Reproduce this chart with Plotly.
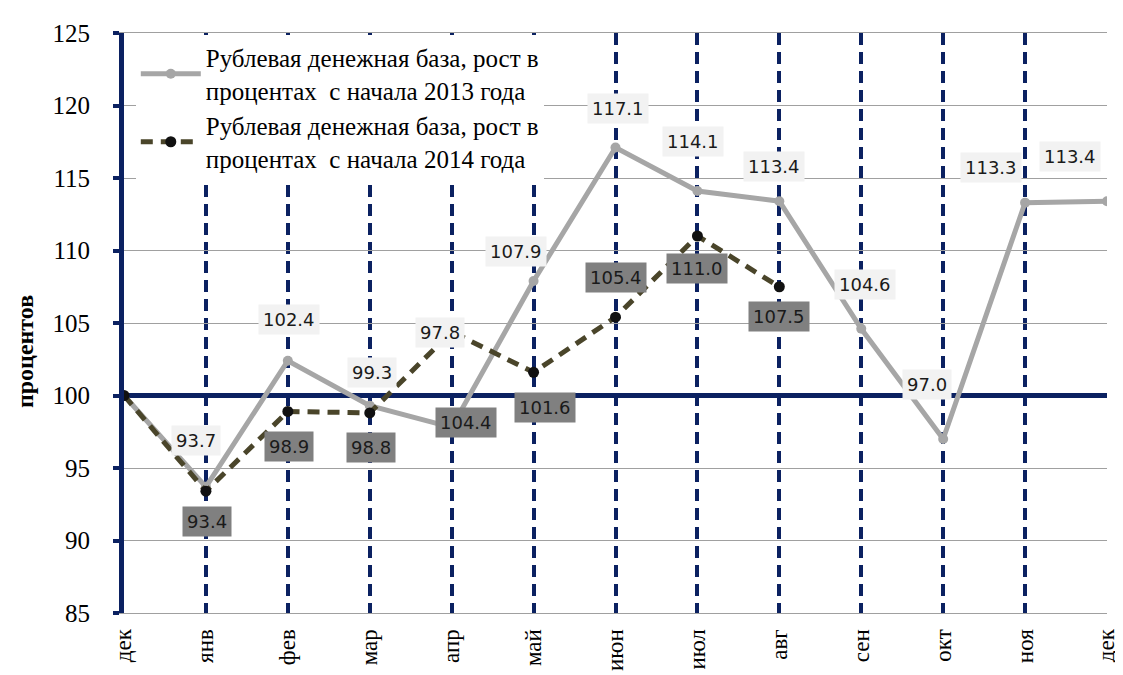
import plotly.graph_objects as go

months = ["дек", "янв", "фев", "мар", "апр", "май", "июн", "июл", "авг", "сен", "окт", "ноя", "дек"]
base_2013 = [100, 93.7, 102.4, 99.3, 97.8, 107.9, 117.1, 114.1, 113.4, 104.6, 97.0, 113.3, 113.4]
base_2014 = [100, 93.4, 98.9, 98.8, 104.4, 101.6, 105.4, 111.0, 107.5]
name_2013 = "Рублевая денежная база, рост в<br>процентах  с начала 2013 года"
name_2014 = "Рублевая денежная база, рост в<br>процентах  с начала 2014 года"
y_title = "процентов"
y_ticks = [85, 90, 95, 100, 105, 110, 115, 120, 125]
baseline = 100

# label offsets in pixels (style only)
off_2013 = [None, (-10, 46), (1, 41), (2, 33), (-12, 95), (-18, 29), (2, 39), (-4, 50),
            (-5, 35), (4, 44), (-16, 55), (-34, 35), (-37, 45)]
off_2014 = [None, (1, -30), (1, -35), (1, -35), (14, -91), (11, -35), (0, 40), (0, -32), (0, -30)]

xs = list(range(len(months)))
NAVY = "#0b2161"
GRAY = "#a6a6a6"
DARK = "#4a452a"

fig = go.Figure()
# baseline reference line at 100, drawn beneath the data series
fig.add_trace(go.Scatter(
    x=[xs[0], xs[-1]], y=[baseline, baseline], mode="lines", showlegend=False, hoverinfo="skip",
    line=dict(color=NAVY, width=5), cliponaxis=False,
))
fig.add_trace(go.Scatter(
    x=xs, y=base_2013, name=name_2013, mode="lines+markers",
    line=dict(color=GRAY, width=5), marker=dict(color=GRAY, size=10),
))
fig.add_trace(go.Scatter(
    x=xs[:len(base_2014)], y=base_2014, name=name_2014, mode="lines+markers",
    line=dict(color=DARK, width=5, dash="12px,8px"), marker=dict(color="#111111", size=11),
))

anns = []
for i, v in enumerate(base_2013):
    o = off_2013[i]
    if o is None:
        continue
    anns.append(dict(x=xs[i], y=v, text=f"{v:.1f}", showarrow=False, xshift=o[0], yshift=o[1],
                     bgcolor="#f2f2f2", borderpad=4,
                     font=dict(family="DejaVu Sans", size=18, color="#1a1a1a")))
for i, v in enumerate(base_2014):
    o = off_2014[i]
    if o is None:
        continue
    anns.append(dict(x=xs[i], y=v, text=f"{v:.1f}", showarrow=False, xshift=o[0], yshift=o[1],
                     bgcolor="#808080", borderpad=4,
                     font=dict(family="DejaVu Sans", size=18, color="#1a1a1a")))
anns.append(dict(x=-0.1, y=0.451, xref="paper", yref="paper", text=f"<b>{y_title}</b>",
                 textangle=-90, showarrow=False, xanchor="center", yanchor="middle",
                 font=dict(family="Liberation Serif", size=24, color="#000000")))

fig.update_layout(
    width=1123, height=675,
    margin=dict(l=116, r=18, t=24, b=66),
    paper_bgcolor="white", plot_bgcolor="white",
    showlegend=True,
    legend=dict(x=0.012, y=0.997, xanchor="left", yanchor="top", bgcolor="white",
                font=dict(family="Liberation Serif", size=25, color="#000000"),
                itemwidth=60, tracegroupgap=10),
    annotations=anns,
    xaxis=dict(range=[0, len(months) - 1], tickvals=xs, ticktext=months, tickangle=-90,
               showgrid=True, gridcolor=NAVY, gridwidth=3.5, griddash="12px,7px",
               showline=True, linecolor="#a0a0a0", linewidth=1, mirror=True,
               ticks="", zeroline=False, ticklabelstandoff=6,
               tickfont=dict(family="Liberation Serif", size=23, color="#000000")),
    yaxis=dict(range=[85, 125], tickvals=y_ticks, showgrid=True, gridcolor="#a0a0a0", gridwidth=1,
               showline=True, linecolor=NAVY, linewidth=5, ticks="outside", ticklen=6,
               tickwidth=4, tickcolor=NAVY, zeroline=False, ticklabelstandoff=18,
               tickfont=dict(family="Liberation Serif", size=25, color="#000000")),
)

fig.write_html("out.html")
